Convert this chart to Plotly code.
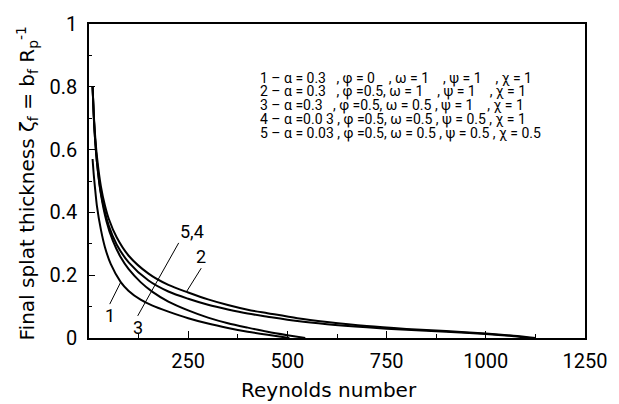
import plotly.graph_objects as go

# ---------------- data ----------------
re_1 = [9, 12, 15, 20, 30, 40, 55, 80, 100, 130, 160, 200, 250, 300, 350, 400, 450, 505]
zeta_1 = [0.57, 0.52, 0.48, 0.42, 0.345, 0.29, 0.235, 0.178, 0.15, 0.122, 0.103, 0.084, 0.063, 0.046, 0.032, 0.02, 0.01, 0.0]

re_3 = [9, 12, 15, 20, 30, 44, 60, 80, 100, 130, 160, 200, 250, 300, 350, 400, 450, 500, 545]
zeta_3 = [0.80, 0.707, 0.64, 0.56, 0.458, 0.372, 0.31, 0.257, 0.219, 0.178, 0.147, 0.116, 0.088, 0.065, 0.047, 0.033, 0.02, 0.009, 0.0]

re_54 = [9, 12, 15, 20, 30, 50, 70, 100, 150, 200, 250, 300, 350, 400, 450, 525, 600, 700, 800, 900, 1000, 1060, 1110]
zeta_54 = [0.80, 0.706, 0.639, 0.561, 0.462, 0.357, 0.297, 0.241, 0.183, 0.148, 0.125, 0.106, 0.091, 0.078, 0.068, 0.054, 0.044, 0.034, 0.026, 0.02, 0.013, 0.007, 0.0]

re_2 = [9, 12, 15, 20, 30, 40, 50, 70, 100, 150, 200, 250, 300, 350, 400, 450, 525, 600, 700, 800, 900, 1000, 1070, 1125]
zeta_2 = [0.80, 0.714, 0.652, 0.578, 0.483, 0.423, 0.379, 0.32, 0.262, 0.205, 0.169, 0.145, 0.123, 0.105, 0.09, 0.079, 0.063, 0.051, 0.038, 0.029, 0.022, 0.014, 0.007, 0.0]

x_tick_vals = [250, 500, 750, 1000, 1250]
x_tick_text = ["250", "500", "750", "1000", "1250"]
y_tick_vals = [0, 0.2, 0.4, 0.6, 0.8, 1.0]
y_tick_text = ["0", "0.2", "0.4", "0.6", "0.8", "1"]

legend_rows = [
    "1 – α = 0.3   , φ = 0    , ω = 1    , ψ = 1    , χ = 1",
    "2 – α = 0.3   , φ =0.5, ω = 1    , ψ = 1    , χ = 1",
    "3 – α =0.3   , φ =0.5, ω = 0.5 , ψ = 1    , χ = 1",
    "4 – α =0.0 3 , φ =0.5, ω =0.5 , ψ = 0.5 , χ = 1",
    "5 – α = 0.03 , φ =0.5, ω = 0.5 , ψ = 0.5 , χ = 0.5",
]

# ---------------- layout helpers ----------------
W, H = 619, 404
ML, MR, MT, MB = 89, 26, 17, 66
PW, PH = W - ML - MR, H - MT - MB

def px_to_paper(xp, yp):
    return (xp - ML) / PW, (H - MB - yp) / PH

legend_x_px = 262
legend_y_px = [72.5, 86.5, 100.5, 114.5, 128.5]

fig = go.Figure()
for xs, ys in [(re_1, zeta_1), (re_3, zeta_3), (re_54, zeta_54), (re_2, zeta_2)]:
    fig.add_trace(go.Scatter(x=xs, y=ys, mode="lines",
                             line=dict(color="black", width=2, shape="spline", smoothing=0.8),
                             showlegend=False, hoverinfo="skip"))

annotations = []
for r, txt in enumerate(legend_rows):
    xp, yp = px_to_paper(legend_x_px, legend_y_px[r])
    annotations.append(dict(text=txt.replace(" ", "\u00a0"), x=xp, y=yp, xref="paper", yref="paper",
                            xanchor="left", yanchor="middle", showarrow=False, borderpad=0,
                            font=dict(family="Roboto", size=14, color="black")))

lab_font = dict(family="Roboto", size=18, color="black")
arrow_style = dict(showarrow=True, arrowhead=0, arrowwidth=1, arrowcolor="black", borderpad=0,
                   xref="x", yref="y", font=lab_font)
annotations += [
    dict(text="1", x=80, y=0.178, ax=-11, ay=22, xanchor="center", yanchor="top", **arrow_style),
    dict(text="2", x=245, y=0.146, ax=15, ay=-24, xanchor="center", yanchor="bottom", **arrow_style),
    dict(text="5,4", x=158, y=0.15, ax=27, ay=-48, xanchor="left", yanchor="bottom", **arrow_style),
    dict(text="3", x=158, y=0.15, ax=-14, ay=25, xanchor="center", yanchor="top", **arrow_style),
]

# axis titles
xt = px_to_paper(333, 391)
annotations.append(dict(text="Reynolds number", x=xt[0], y=xt[1], xref="paper", yref="paper",
                        xanchor="center", yanchor="middle", showarrow=False,
                        font=dict(family="DejaVu Sans", size=20, color="black")))
yt = px_to_paper(26, 180)
annotations.append(dict(text="Final splat thickness ζ<sub>f</sub> = b<sub>f</sub> R<sub>p</sub><sup>-1</sup>",
                        x=yt[0], y=yt[1], xref="paper", yref="paper", textangle=-90,
                        xanchor="center", yanchor="middle", showarrow=False,
                        font=dict(family="DejaVu Sans", size=20, color="black")))

tick_font = dict(family="Roboto", size=20, color="black")
fig.update_layout(
    width=W, height=H,
    margin=dict(l=ML, r=MR, t=MT, b=MB, pad=0),
    paper_bgcolor="white", plot_bgcolor="white",
    annotations=annotations,
    xaxis=dict(range=[0, 1250], tickvals=x_tick_vals, ticktext=x_tick_text,
               ticks="inside", ticklen=7, tickwidth=1, tickcolor="black",
               minor=dict(ticks="inside", ticklen=4, dtick=125, tick0=0, tickcolor="black", tickwidth=1),
               showline=True, linecolor="black", linewidth=1.5, mirror=True,
               showgrid=False, zeroline=False, tickfont=tick_font, ticklabelstandoff=4),
    yaxis=dict(range=[0, 1], tickvals=y_tick_vals, ticktext=y_tick_text,
               ticks="inside", ticklen=6, tickwidth=1, tickcolor="black",
               minor=dict(ticks="inside", ticklen=3, dtick=0.1, tick0=0, tickcolor="black", tickwidth=1),
               showline=True, linecolor="black", linewidth=1.5, mirror=True,
               showgrid=False, zeroline=False, tickfont=tick_font, ticklabelstandoff=6),
)

fig.write_html("out.html")
